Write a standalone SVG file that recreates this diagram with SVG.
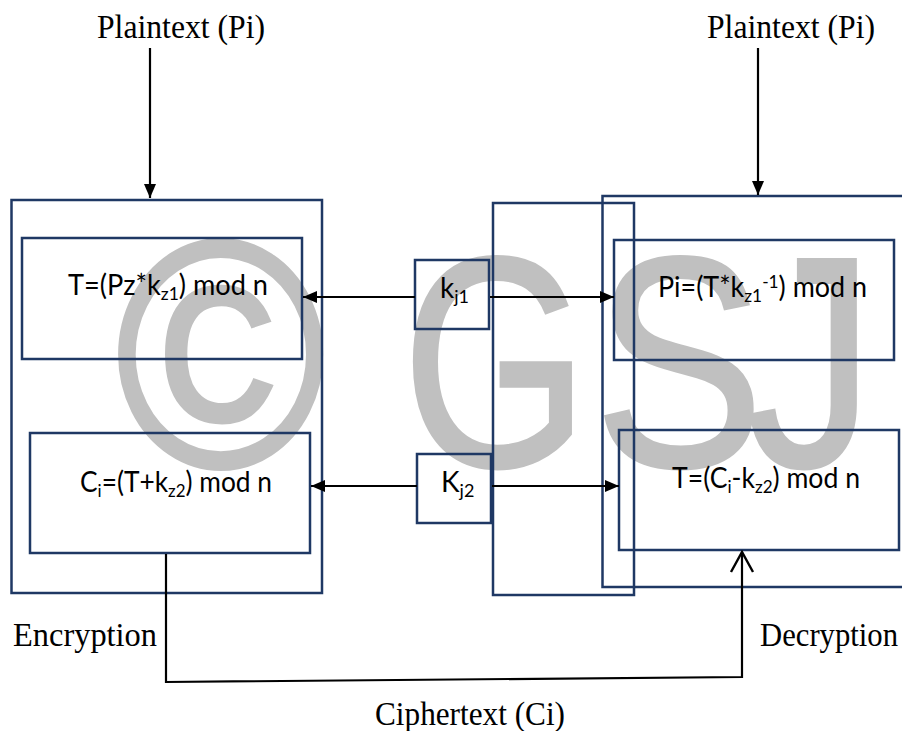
<svg xmlns="http://www.w3.org/2000/svg" width="902" height="731" viewBox="0 0 902 731">
<style>
.box{fill:none;stroke:#1f3864;stroke-width:2.5}
.line{fill:none;stroke:#000;stroke-width:2.2}
.serif{font-family:"Liberation Serif","Times New Roman",serif;font-size:33px;fill:#000}
.sans{font-family:Lato,"Liberation Sans",sans-serif;font-size:28px;fill:#000}
.sub{font-size:18px}
.wm{font-family:"Liberation Sans",Arial,sans-serif;font-size:300px;fill:#c0c0c0;stroke:#c0c0c0;stroke-width:3}
</style>
<defs>
<marker id="tri" viewBox="0 0 14 12" refX="14" refY="6" markerWidth="14" markerHeight="12" markerUnits="userSpaceOnUse" orient="auto">
<path d="M0,0 L14,6 L0,12 Z" fill="#000"/>
</marker>
<marker id="open" viewBox="0 0 24 26" refX="22" refY="13" markerWidth="24" markerHeight="26" markerUnits="userSpaceOnUse" orient="auto">
<path d="M2,2 L22,13 L2,24" fill="none" stroke="#000" stroke-width="2.4"/>
</marker>
</defs>
<g id="watermark">
<text class="wm" style="font-size:323px;stroke-width:5" transform="translate(116,466) scale(0.88,1)">©</text>
<text class="wm" transform="translate(402,466) scale(0.8,1)">G</text>
<text class="wm" transform="translate(594,466) scale(0.85,1)">S</text>
<text class="wm" transform="translate(747,466) scale(0.85,1)">J</text>
</g>
<g id="encryption-block">
<rect class="box" x="11.5" y="200" width="310.5" height="393"/>
<text class="serif" x="13" y="646" textLength="144" lengthAdjust="spacingAndGlyphs">Encryption</text>
</g>
<g id="enc-step1">
<rect class="box" x="22" y="238" width="280" height="121"/>
<text class="sans" x="68" y="295" textLength="200" lengthAdjust="spacingAndGlyphs">T=(Pz*k<tspan class="sub" dy="5">z1</tspan><tspan dy="-5">) mod n</tspan></text>
</g>
<g id="enc-step2">
<rect class="box" x="30" y="433" width="280" height="120"/>
<text class="sans" x="80" y="492" textLength="192" lengthAdjust="spacingAndGlyphs">C<tspan class="sub" dy="5">i</tspan><tspan dy="-5">=(T+k</tspan><tspan class="sub" dy="5">z2</tspan><tspan dy="-5">) mod n</tspan></text>
</g>
<g id="key1">
<rect class="box" x="415" y="260" width="74" height="69"/>
<text class="sans" x="440" y="298">k<tspan class="sub" dy="5">j1</tspan></text>
</g>
<g id="key2">
<rect class="box" x="417" y="454" width="74" height="69"/>
<text class="sans" x="441" y="492">K<tspan class="sub" dy="5">j2</tspan></text>
</g>
<g id="middle-block">
<rect class="box" x="493" y="203" width="141" height="392"/>
</g>
<g id="decryption-block">
<rect class="box" x="602.5" y="196" width="320" height="391"/>
<text class="serif" x="760" y="646" textLength="138" lengthAdjust="spacingAndGlyphs">Decryption</text>
</g>
<g id="dec-step1">
<rect class="box" x="614" y="240" width="280" height="120"/>
<text class="sans" x="658" y="297" textLength="209" lengthAdjust="spacingAndGlyphs">Pi=(T*k<tspan class="sub" dy="5">z1</tspan><tspan class="sub" dy="-14">-1</tspan><tspan dy="9">) mod n</tspan></text>
</g>
<g id="dec-step2">
<rect class="box" x="619" y="430" width="280" height="120"/>
<text class="sans" x="672" y="488" textLength="188" lengthAdjust="spacingAndGlyphs">T=(C<tspan class="sub" dy="5">i</tspan><tspan dy="-5">-k</tspan><tspan class="sub" dy="5">z2</tspan><tspan dy="-5">) mod n</tspan></text>
</g>
<g id="labels">
<text class="serif" x="97" y="38" textLength="168" lengthAdjust="spacingAndGlyphs">Plaintext (Pi)</text>
<text class="serif" x="707" y="38" textLength="168" lengthAdjust="spacingAndGlyphs">Plaintext (Pi)</text>
<text class="serif" x="375" y="725" textLength="190" lengthAdjust="spacingAndGlyphs">Ciphertext (Ci)</text>
</g>
<g id="connectors">
<line class="line" x1="150" y1="48" x2="150" y2="198" marker-end="url(#tri)"/>
<line class="line" x1="758" y1="48" x2="758" y2="195" marker-end="url(#tri)"/>
<line class="line" x1="415" y1="297" x2="303" y2="297" marker-end="url(#tri)"/>
<line class="line" x1="490" y1="297" x2="614" y2="297" marker-end="url(#tri)"/>
<line class="line" x1="417" y1="486" x2="311" y2="486" marker-end="url(#tri)"/>
<line class="line" x1="492" y1="486" x2="619" y2="486" marker-end="url(#tri)"/>
<polyline class="line" points="166,554 166,682 742,677 742,552" marker-end="url(#open)"/>
</g>
</svg>
